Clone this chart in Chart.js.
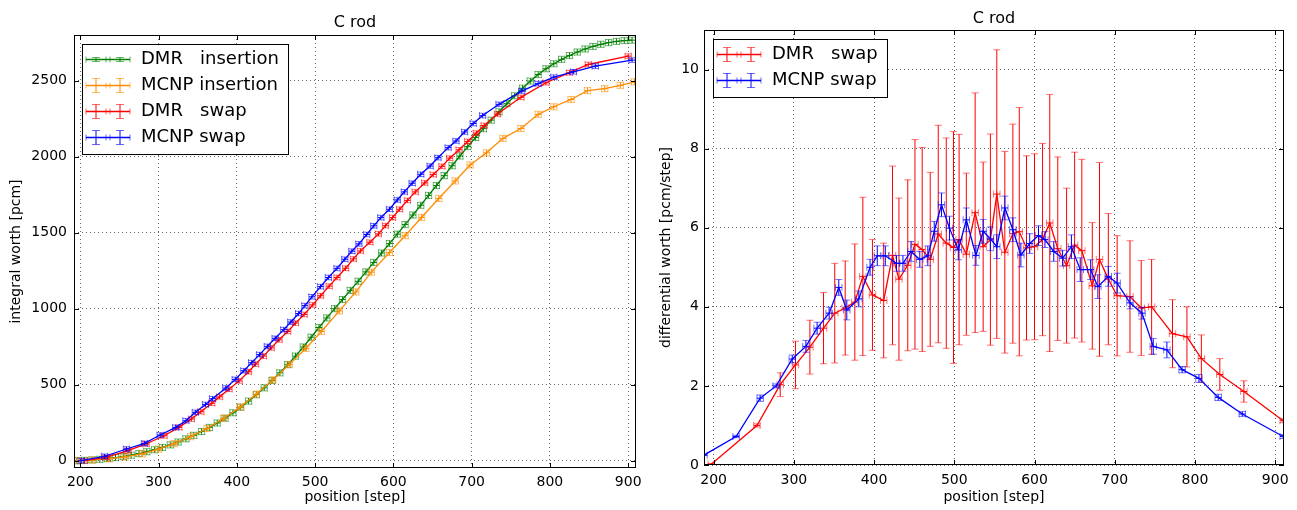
<!DOCTYPE html>
<html>
<head>
<meta charset="utf-8">
<script src="https://cdn.jsdelivr.net/npm/chart.js@4.4.1/dist/chart.umd.min.js"></script>
<style>
  html, body { margin: 0; padding: 0; background: #fff; }
  #wrap { position: relative; width: 1297px; height: 510px; }
  canvas { position: absolute; top: 0; }
  #worthChart { left: 0; }
  #diffChart { left: 648px; }
</style>
</head>
<body>
<div id="wrap">
  <canvas id="worthChart" width="648" height="510"></canvas>
  <canvas id="diffChart" width="649" height="510"></canvas>
</div>
<script>
// integral worth [pcm] vs position [step]
const positionDmrIns = [195, 205, 215, 225, 235, 245, 255, 265, 275, 285, 295, 305, 315, 325, 335, 345, 355, 365, 375, 385,
  395, 405, 415, 425, 435, 445, 455, 465, 475, 485, 495, 505, 515, 525, 535, 545, 555, 565, 575, 585,
  595, 605, 615, 625, 635, 645, 655, 665, 675, 685, 695, 705, 715, 725, 735, 745, 755, 765, 775, 785,
  795, 805, 815, 825, 835, 845, 855, 865, 875, 885, 895, 905];
const worthDmrIns = [0, 2, 5, 9, 14, 20, 27, 36, 47, 59, 72, 87, 104, 123, 144, 167, 192, 219, 248, 280,
  315, 352, 392, 434, 479, 527, 578, 632, 688, 748, 812, 876, 939, 1000, 1060, 1120, 1180, 1242, 1304, 1366,
  1428, 1490, 1553, 1616, 1680, 1745, 1810, 1875, 1940, 2004, 2066, 2126, 2184, 2240, 2295, 2348, 2400, 2450, 2497, 2540,
  2578, 2611, 2640, 2665, 2688, 2708, 2725, 2739, 2750, 2758, 2763, 2766];

const positionMcnpIns = [195, 216, 237, 257, 279, 300, 320, 341, 362, 383, 404, 425, 446, 467, 488, 508, 531, 552,
  572, 595, 615, 636, 658, 679, 698, 719, 740, 763, 785, 805, 827, 848, 870, 890, 908];
const worthMcnpIns = [0, 5, 13, 25, 45, 76, 112, 158, 212, 278, 352, 438, 532, 632, 738, 850, 985, 1110,
  1240, 1369, 1480, 1600, 1725, 1840, 1945, 2025, 2120, 2185, 2278, 2328, 2376, 2434, 2447, 2469, 2492];

const positionDmrSwap = [205, 233, 261, 284, 307, 326, 342, 354, 368, 378, 390, 403, 415, 424, 434, 444, 454, 465,
  475, 486, 497, 507, 518, 528, 539, 549, 558, 570, 581, 590, 599, 608, 618, 628, 640, 651, 662, 672,
  684, 695, 706, 716, 733, 763, 795, 825, 849, 900];
const worthDmrSwap = [0, 22, 66, 110, 164, 219, 274, 322, 378, 420, 470, 525, 585, 635, 688, 742, 795, 850,
  905, 962, 1025, 1085, 1148, 1205, 1266, 1327, 1380, 1437, 1492, 1546, 1599, 1654, 1712, 1768, 1827, 1882, 1936, 1990,
  2045, 2100, 2155, 2205, 2280, 2390, 2486, 2552, 2606, 2661];

const positionMcnpSwap = [201, 231, 259, 282, 302, 322, 335, 347, 360, 369, 386, 398, 409, 419, 429, 439, 449, 460,
  469, 479, 487, 496, 507, 517, 528, 538, 547, 556, 566, 575, 584, 595, 605, 614, 624, 635, 647, 657,
  670, 680, 691, 702, 714, 735, 764, 785, 805, 830, 858, 905];
const worthMcnpSwap = [0, 29, 77, 114, 169, 219, 263, 318, 370, 408, 478, 535, 592, 645, 698, 752, 805, 862,
  912, 968, 1020, 1078, 1145, 1205, 1265, 1325, 1378, 1426, 1488, 1545, 1599, 1654, 1715, 1768, 1825, 1884, 1938, 1993,
  2059, 2103, 2162, 2218, 2270, 2344, 2431, 2480, 2523, 2558, 2595, 2635];

// error on the integral curves, one per series (DMR ins, MCNP ins, DMR swap, MCNP swap)
const worthSigma = [20, 20, 15, 15];

// differential worth [pcm/step]
const diffDmrX = [197, 254, 283, 302, 320, 337, 351, 364, 376, 386, 398, 412, 423, 431, 442, 451, 460, 470, 480, 490,
  499, 506, 515, 526, 536, 545, 553, 563, 573, 581, 590, 600, 610, 619, 629, 640, 650, 659, 672, 681,
  692, 703, 719, 733, 746, 772, 790, 808, 831, 861, 910];
const diffDmrY = [0.02, 1.0, 2.03, 2.53, 2.98, 3.46, 3.84, 3.97, 4.12, 4.77, 4.3, 4.16, 5.3, 4.7, 5.05, 5.58, 5.45, 5.2, 5.84, 5.61,
  5.5, 5.7, 5.33, 6.38, 5.52, 5.7, 6.85, 5.38, 5.85, 5.9, 5.49, 5.52, 5.7, 6.12, 5.47, 5.04, 5.56, 5.42, 4.53, 5.2,
  4.7, 4.28, 4.26, 3.97, 4.0, 3.32, 3.24, 2.69, 2.29, 1.86, 1.12];
const diffDmrErr = [0.02, 0.04, 0.3, 0.6, 0.68, 0.9, 1.26, 1.19, 1.47, 2.0, 1.4, 1.45, 2.26, 2.05, 2.16, 2.65, 2.58, 2.2, 2.75, 2.66,
  2.93, 2.66, 2.05, 3.03, 2.14, 2.67, 3.65, 2.55, 2.77, 3.14, 2.33, 2.35, 2.43, 3.25, 2.32, 1.96, 2.35, 2.31, 1.6, 2.45,
  1.66, 1.52, 1.41, 1.2, 1.2, 0.86, 0.76, 0.6, 0.4, 0.27, 0.05];

const diffMcnpX = [188, 228, 258, 278, 298, 315, 329, 344, 356, 366, 381, 395, 404, 414, 428, 436, 446, 457, 467, 475,
  484, 494, 505, 515, 527, 536, 545, 553, 563, 573, 583, 594, 605, 613, 624, 635, 646, 657, 670, 679,
  692, 703, 719, 734, 748, 765, 784, 805, 829, 859, 910];
const diffMcnpY = [0.25, 0.72, 1.69, 2.0, 2.68, 3.0, 3.46, 3.84, 4.49, 3.92, 4.2, 5.0, 5.29, 5.29, 5.1, 5.1, 5.4, 5.2, 5.29, 5.91,
  6.58, 5.99, 5.44, 6.2, 5.3, 5.91, 5.72, 5.52, 6.5, 5.95, 5.31, 5.6, 5.8, 5.7, 5.4, 5.23, 5.52, 4.94, 4.94, 4.51,
  4.77, 4.6, 4.1, 3.84, 3.0, 2.91, 2.41, 2.19, 1.71, 1.29, 0.72];
const diffMcnpErr = [0, 0.03, 0.08, 0.05, 0.1, 0.15, 0.15, 0.15, 0.2, 0.25, 0.2, 0.2, 0.25, 0.25, 0.2, 0.2, 0.25, 0.2, 0.25, 0.25,
  0.3, 0.3, 0.25, 0.3, 0.25, 0.3, 0.3, 0.3, 0.3, 0.3, 0.3, 0.25, 0.25, 0.2, 0.25, 0.2, 0.3, 0.3, 0.25, 0.3,
  0.25, 0.25, 0.15, 0.15, 0.2, 0.2, 0.08, 0.1, 0.08, 0.06, 0.05];

const positionTicks = [200, 300, 400, 500, 600, 700, 800, 900];
const worthTicks = [0, 500, 1000, 1500, 2000, 2500];
const diffTicks = [0, 2, 4, 6, 8, 10];

const GREEN = "#008000";
const ORANGE = "#ff8c00";
const RED = "#ff0000";
const BLUE = "#0000ff";
const X_SIGMA = 4; // horizontal error bar half width [step]

Chart.defaults.font.family = "'DejaVu Sans', sans-serif";
Chart.defaults.color = "#000";

function points(xs, ys) {
  return xs.map((x, i) => ({ x, y: ys[i] }));
}

function series(label, color, xs, ys, err, order, legendBar) {
  return {
    label,
    data: points(xs, ys),
    borderColor: color,
    backgroundColor: color,
    borderWidth: 1.3,
    showLine: true,
    pointRadius: 0,
    tension: 0,
    yErr: err,
    order,
    legendBar,
  };
}

// error bars for each dataset, drawn right after its line
const errorBars = {
  id: "errorBars",
  afterDatasetDraw(chart, args) {
    const ds = chart.data.datasets[args.index];
    if (ds.yErr === undefined) return;
    const xs = chart.scales.x;
    const ys = chart.scales.y;
    const ctx = chart.ctx;
    const a = chart.chartArea;
    const cap = 3.5;
    ctx.save();
    ctx.beginPath();
    ctx.rect(a.left, a.top, a.right - a.left, a.bottom - a.top);
    ctx.clip();
    ctx.strokeStyle = ds.borderColor;
    ctx.lineWidth = 1;
    ds.data.forEach((p, i) => {
      const e = Array.isArray(ds.yErr) ? ds.yErr[i] : ds.yErr;
      const px = xs.getPixelForValue(p.x);
      const py = ys.getPixelForValue(p.y);
      const y0 = ys.getPixelForValue(p.y - e);
      const y1 = ys.getPixelForValue(p.y + e);
      const xl = xs.getPixelForValue(p.x - X_SIGMA);
      const xr = xs.getPixelForValue(p.x + X_SIGMA);
      ctx.globalAlpha = 1;
      ctx.beginPath();
      ctx.moveTo(px, y0); ctx.lineTo(px, y1);
      ctx.moveTo(xl, py); ctx.lineTo(xr, py);
      ctx.stroke();
      ctx.globalAlpha = 0.55;
      ctx.beginPath();
      ctx.moveTo(px - cap, y0); ctx.lineTo(px + cap, y0);
      ctx.moveTo(px - cap, y1); ctx.lineTo(px + cap, y1);
      ctx.moveTo(xl, py - cap); ctx.lineTo(xl, py + cap);
      ctx.moveTo(xr, py - cap); ctx.lineTo(xr, py + cap);
      ctx.stroke();
    });
    ctx.restore();
  },
};

function drawLegendIcon(ctx, x0, y, color, bar) {
  ctx.strokeStyle = color;
  ctx.lineWidth = 1.3;
  ctx.globalAlpha = 1;
  ctx.beginPath();
  ctx.moveTo(x0, y); ctx.lineTo(x0 + 44, y);
  ctx.stroke();
  [x0 + 10, x0 + 34].forEach((cx) => {
    ctx.lineWidth = 1;
    ctx.globalAlpha = 1;
    ctx.beginPath();
    ctx.moveTo(cx, y - bar); ctx.lineTo(cx, y + bar);
    ctx.stroke();
    ctx.globalAlpha = 0.6;
    ctx.beginPath();
    ctx.moveTo(cx - 4, y - bar); ctx.lineTo(cx + 4, y - bar);
    ctx.moveTo(cx - 4, y + bar); ctx.lineTo(cx + 4, y + bar);
    ctx.moveTo(cx - 10, y - 3); ctx.lineTo(cx - 10, y + 3);
    ctx.moveTo(cx + 10, y - 3); ctx.lineTo(cx + 10, y + 3);
    ctx.stroke();
  });
  ctx.globalAlpha = 1;
}

// plot frame, inward ticks and the boxed legend
const axesDecor = {
  id: "axesDecor",
  afterDraw(chart, args, opts) {
    const { ctx, chartArea: a } = chart;
    ctx.save();
    ctx.strokeStyle = "#000";
    ctx.lineWidth = 1;
    ctx.strokeRect(Math.round(a.left) + 0.5, Math.round(a.top) + 0.5,
      Math.round(a.right - a.left) - 1, Math.round(a.bottom - a.top) - 1);

    ctx.beginPath();
    chart.scales.x.ticks.forEach((t) => {
      const px = Math.round(chart.scales.x.getPixelForValue(t.value)) + 0.5;
      ctx.moveTo(px, a.bottom); ctx.lineTo(px, a.bottom - 5);
      ctx.moveTo(px, a.top); ctx.lineTo(px, a.top + 5);
    });
    chart.scales.y.ticks.forEach((t) => {
      const py = Math.round(chart.scales.y.getPixelForValue(t.value)) + 0.5;
      ctx.moveTo(a.left, py); ctx.lineTo(a.left + 5, py);
      ctx.moveTo(a.right, py); ctx.lineTo(a.right - 5, py);
    });
    ctx.stroke();

    const items = chart.data.datasets;
    ctx.font = "18px 'DejaVu Sans'";
    const textW = Math.max(...items.map((d) => ctx.measureText(d.label).width));
    const left = Math.round(a.left + opts.dx);
    const top = Math.round(a.top + opts.dy);
    const w = Math.round(59 + textW + 9);
    const h = Math.round(15.5 + (items.length - 1) * 26 + 16);
    ctx.fillStyle = "#fff";
    ctx.fillRect(left, top, w, h);
    ctx.strokeStyle = "#000";
    ctx.strokeRect(left + 0.5, top + 0.5, w, h);
    items.forEach((d, i) => {
      const y = top + 15.5 + i * 26;
      drawLegendIcon(ctx, left + 4, y, d.borderColor, d.legendBar);
      ctx.fillStyle = "#000";
      ctx.textBaseline = "middle";
      ctx.textAlign = "left";
      ctx.fillText(d.label, left + 59, y);
    });
    ctx.restore();
  },
};

function fixedTicks(values) {
  return (scale) => {
    scale.ticks = values.map((v) => ({ value: v }));
  };
}

function buildOptions(p) {
  return {
    responsive: false,
    devicePixelRatio: 1,
    animation: false,
    layout: { padding: { left: 0, right: p.padRight, top: 0, bottom: 0 } },
    plugins: {
      legend: { display: false },
      tooltip: { enabled: false },
      axesDecor: { dx: p.legendDx, dy: p.legendDy },
    },
    scales: {
      x: {
        type: "linear",
        position: "bottom",
        min: p.xMin,
        max: p.xMax,
        afterBuildTicks: fixedTicks(positionTicks),
        afterFit: (s) => { s.height = p.xAxisHeight; },
        grid: { color: "rgba(0,0,0,0.75)", lineWidth: 0.8, drawTicks: false },
        border: { display: false, dash: [1, 3] },
        ticks: { font: { size: 14 }, padding: p.xTickPad, maxRotation: 0, callback: (v) => String(v) },
        title: { display: true, text: "position [step]", font: { size: 14 }, padding: { top: 0, bottom: 4 } },
      },
      top: {
        type: "linear",
        position: "top",
        min: p.xMin,
        max: p.xMax,
        afterBuildTicks: (s) => { s.ticks = []; },
        afterFit: (s) => { s.height = p.titleHeight; },
        grid: { display: false },
        border: { display: false },
        ticks: { display: false },
        title: { display: true, text: "C rod", font: { size: 16 }, padding: { top: p.titlePad, bottom: 0 } },
      },
      y: {
        type: "linear",
        min: p.yMin,
        max: p.yMax,
        afterBuildTicks: fixedTicks(p.yTicks),
        afterFit: (s) => { s.width = p.yAxisWidth; },
        grid: { color: "rgba(0,0,0,0.75)", lineWidth: 0.8, drawTicks: false },
        border: { display: false, dash: [1, 3] },
        ticks: { font: { size: 14 }, padding: p.yTickPad, callback: (v) => String(v) },
        title: { display: true, text: p.yTitle, font: { size: 14 }, padding: { top: p.yTitlePad, bottom: 0 } },
      },
    },
  };
}

new Chart(document.getElementById("worthChart"), {
  type: "scatter",
  data: {
    datasets: [
      series("DMR   insertion", GREEN, positionDmrIns, worthDmrIns, worthSigma[0], 4, 2),
      series("MCNP insertion", ORANGE, positionMcnpIns, worthMcnpIns, worthSigma[1], 3, 7),
      series("DMR   swap", RED, positionDmrSwap, worthDmrSwap, worthSigma[2], 2, 7),
      series("MCNP swap", BLUE, positionMcnpSwap, worthMcnpSwap, worthSigma[3], 1, 7),
    ],
  },
  options: buildOptions({
    xMin: 192, xMax: 910, yMin: -48, yMax: 2800, yTicks: worthTicks,
    padRight: 12, xAxisHeight: 42, yAxisWidth: 74, titleHeight: 35, titlePad: 13, xTickPad: 6,
    yTickPad: 7, yTitlePad: 8, yTitle: "integral worth [pcm]", legendDx: 8, legendDy: 9,
  }),
  plugins: [errorBars, axesDecor],
});

new Chart(document.getElementById("diffChart"), {
  type: "scatter",
  data: {
    datasets: [
      series("DMR   swap", RED, diffDmrX, diffDmrY, diffDmrErr, 2, 7),
      series("MCNP swap", BLUE, diffMcnpX, diffMcnpY, diffMcnpErr, 1, 7),
    ],
  },
  options: buildOptions({
    xMin: 188, xMax: 911, yMin: 0, yMax: 11, yTicks: diffTicks,
    padRight: 13, xAxisHeight: 45, yAxisWidth: 56, titleHeight: 30, titlePad: 9, xTickPad: 7,
    yTickPad: 5, yTitlePad: 10, yTitle: "differential worth [pcm/step]", legendDx: 9, legendDy: 9,
  }),
  plugins: [errorBars, axesDecor],
});
</script>
</body>
</html>
